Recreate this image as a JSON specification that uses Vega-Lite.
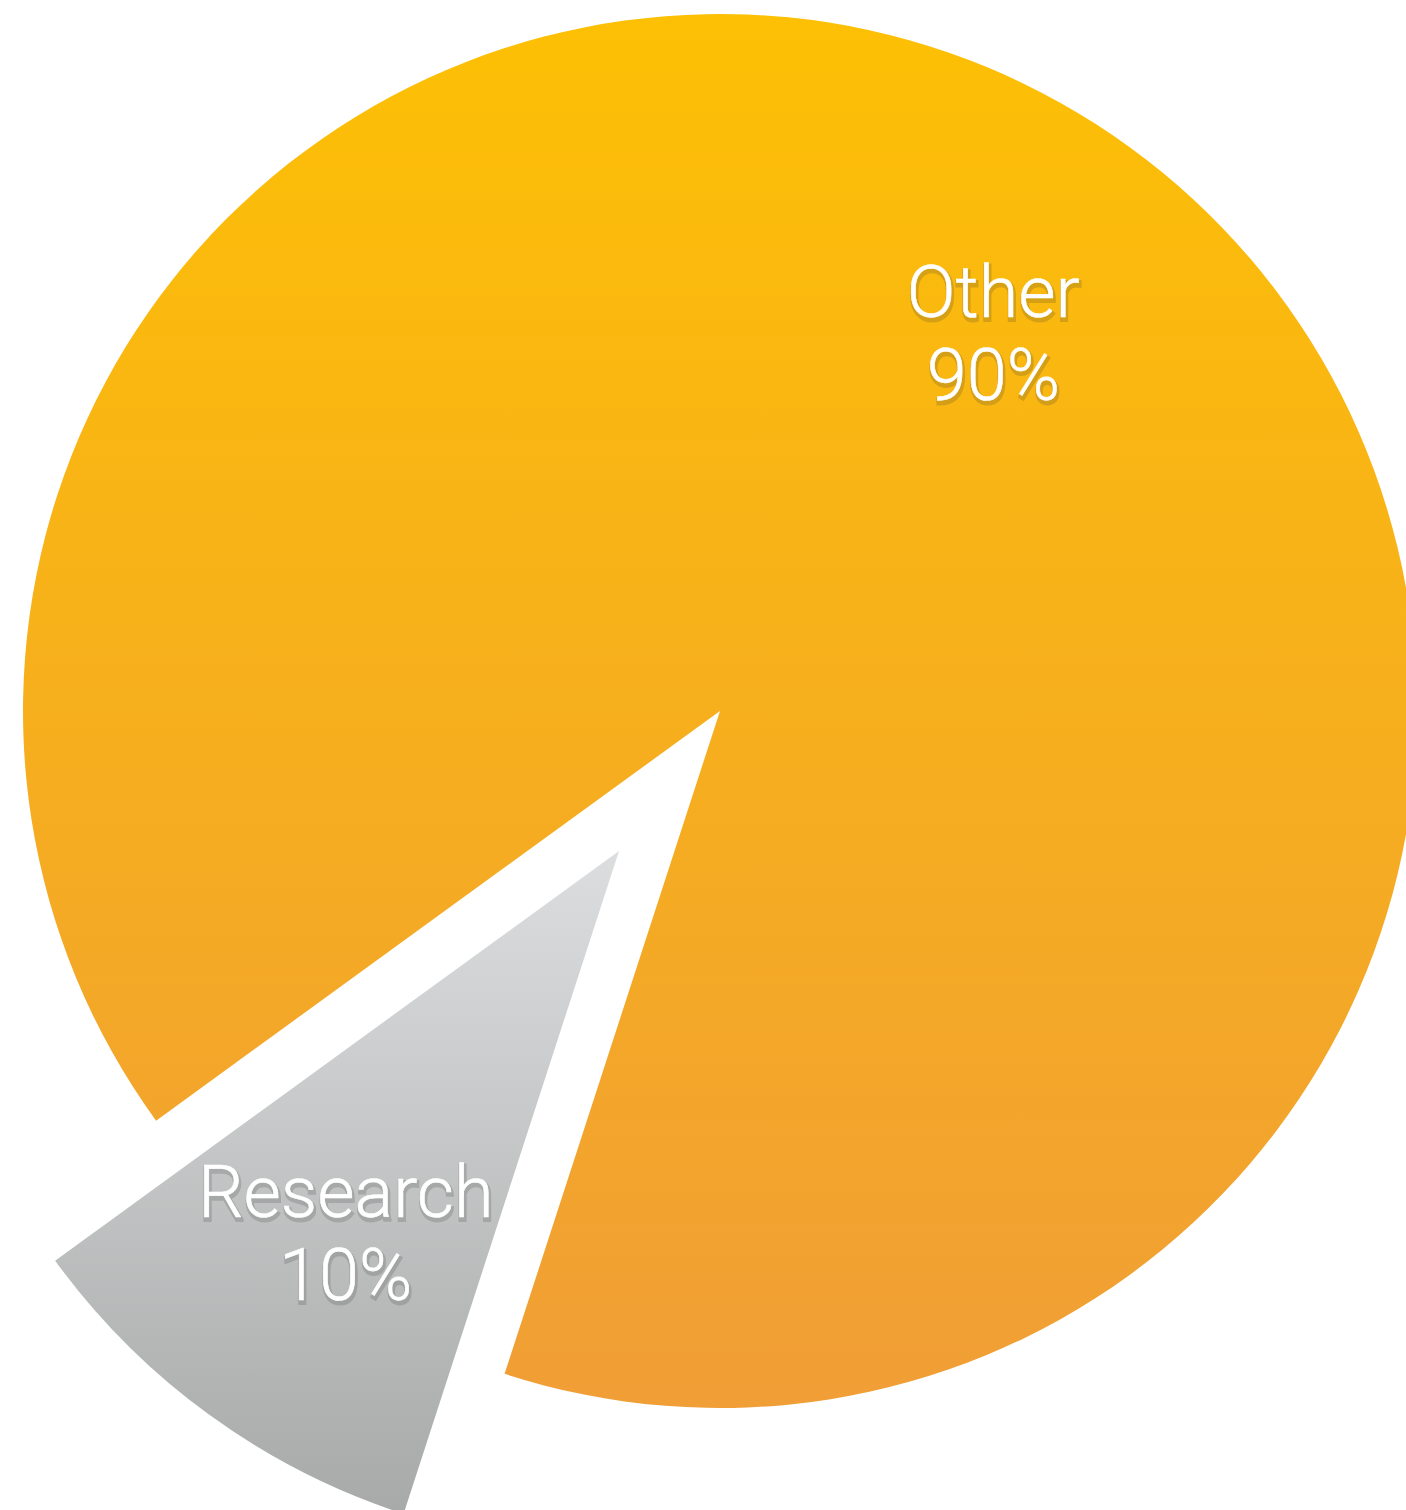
{
  "$schema": "https://vega.github.io/schema/vega-lite/v6.json",
  "autosize": "none",
  "width": 1372,
  "height": 1422,
  "padding": {"left": 34, "top": 0, "right": 0, "bottom": 88},
  "background": "white",
  "config": {"view": {"stroke": null}},
  "data": {"values": [
    {"category": "Other", "value": 0.9},
    {"category": "Research", "value": 0.1}
  ]},
  "encoding": {
    "theta": {"field": "value", "type": "quantitative", "stack": true, "scale": {"domain": [0, 1], "range": [3.4558, 9.7390]}},
    "order": {"field": "category", "sort": "descending"}
  },
  "layer": [
    {
      "mark": {"type": "arc", "outerRadius": 697, "fill": {"gradient": "linear", "x1": 0, "y1": 0, "x2": 0, "y2": 1, "stops": [{"offset": 0, "color": "#FDC004"}, {"offset": 1, "color": "#F09E36"}]}},
      "encoding": {"opacity": {"condition": {"test": "datum.category === 'Other'", "value": 1}, "value": 0}}
    },
    {
      "mark": {"type": "arc", "outerRadius": 697, "xOffset": -101, "yOffset": 140, "fill": {"gradient": "linear", "x1": 0, "y1": 0, "x2": 0, "y2": 1, "stops": [{"offset": 0, "color": "#DCDDDF"}, {"offset": 1, "color": "#A7AAA9"}]}},
      "encoding": {"opacity": {"condition": {"test": "datum.category === 'Research'", "value": 1}, "value": 0}}
    },
    {
      "mark": {"type": "text", "radius": 465, "font": "Roboto", "fontWeight": 300, "fontSize": 72, "fill": "#333333", "stroke": "#333333", "strokeWidth": 4, "opacity": 0.18, "baseline": "alphabetic", "align": "center", "dx": 1, "dy": -15},
      "encoding": {"text": {"condition": {"test": "datum.category === 'Other'", "field": "category"}, "value": ""}}
    },
    {
      "mark": {"type": "text", "radius": 465, "font": "Roboto", "fontWeight": 300, "fontSize": 72, "fill": "#333333", "stroke": "#333333", "strokeWidth": 4, "opacity": 0.18, "baseline": "alphabetic", "align": "center", "dx": 1, "dy": 68},
      "encoding": {"text": {"condition": {"test": "datum.category === 'Other'", "field": "value", "type": "quantitative", "format": ".0%"}, "value": ""}}
    },
    {
      "mark": {"type": "text", "radius": 465, "font": "Roboto", "fontWeight": 300, "fontSize": 72, "fill": "white", "stroke": "white", "strokeWidth": 0.6, "baseline": "alphabetic", "align": "center", "dy": -18},
      "encoding": {"text": {"condition": {"test": "datum.category === 'Other'", "field": "category"}, "value": ""}}
    },
    {
      "mark": {"type": "text", "radius": 465, "font": "Roboto", "fontWeight": 300, "fontSize": 72, "fill": "white", "stroke": "white", "strokeWidth": 0.6, "baseline": "alphabetic", "align": "center", "dy": 65},
      "encoding": {"text": {"condition": {"test": "datum.category === 'Other'", "field": "value", "type": "quantitative", "format": ".0%"}, "value": ""}}
    },
    {
      "mark": {"type": "text", "radius": 465, "xOffset": -101, "yOffset": 140, "font": "Roboto", "fontWeight": 300, "fontSize": 72, "fill": "#333333", "stroke": "#333333", "strokeWidth": 4, "opacity": 0.18, "baseline": "alphabetic", "align": "center", "dx": 1, "dy": -7},
      "encoding": {"text": {"condition": {"test": "datum.category === 'Research'", "field": "category"}, "value": ""}}
    },
    {
      "mark": {"type": "text", "radius": 465, "xOffset": -101, "yOffset": 140, "font": "Roboto", "fontWeight": 300, "fontSize": 72, "fill": "#333333", "stroke": "#333333", "strokeWidth": 4, "opacity": 0.18, "baseline": "alphabetic", "align": "center", "dx": 1, "dy": 76},
      "encoding": {"text": {"condition": {"test": "datum.category === 'Research'", "field": "value", "type": "quantitative", "format": ".0%"}, "value": ""}}
    },
    {
      "mark": {"type": "text", "radius": 465, "xOffset": -101, "yOffset": 140, "font": "Roboto", "fontWeight": 300, "fontSize": 72, "fill": "white", "stroke": "white", "strokeWidth": 0.6, "baseline": "alphabetic", "align": "center", "dy": -10},
      "encoding": {"text": {"condition": {"test": "datum.category === 'Research'", "field": "category"}, "value": ""}}
    },
    {
      "mark": {"type": "text", "radius": 465, "xOffset": -101, "yOffset": 140, "font": "Roboto", "fontWeight": 300, "fontSize": 72, "fill": "white", "stroke": "white", "strokeWidth": 0.6, "baseline": "alphabetic", "align": "center", "dy": 73},
      "encoding": {"text": {"condition": {"test": "datum.category === 'Research'", "field": "value", "type": "quantitative", "format": ".0%"}, "value": ""}}
    }
  ]
}
